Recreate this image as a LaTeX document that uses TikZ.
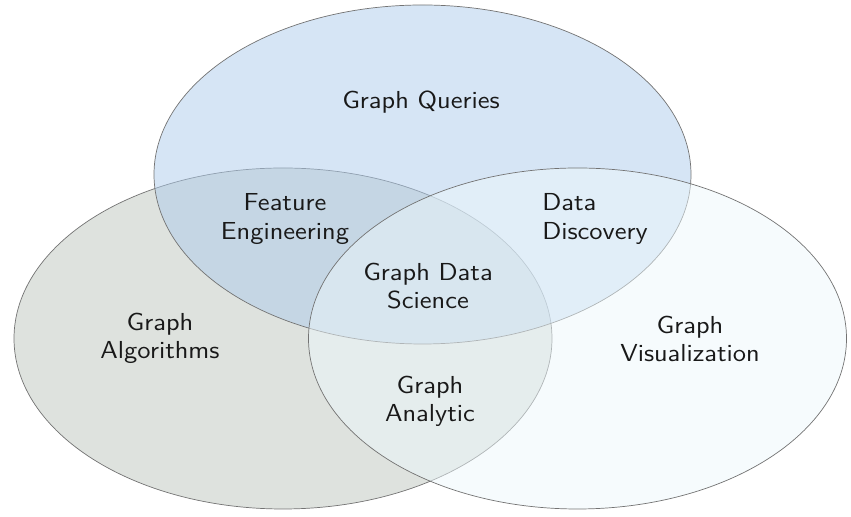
\documentclass[tikz,border=0pt]{standalone}
\usepackage{tikz}

\definecolor{queryblue}{RGB}{173,203,235}
\definecolor{algogrey}{RGB}{189,197,189}
\definecolor{vispale}{RGB}{237,248,252}

\tikzset{
  venn/.style={draw=black!55, thin, fill opacity=.5},
  lbl/.style={font=\sffamily\fontsize{14}{16}\selectfont, align=center, text=black!90,
    xscale=1.1, transform shape}
}

\begin{document}
\begin{tikzpicture}
    \useasboundingbox (0,0) rectangle (17.02,10.34);

    \draw[venn, fill=algogrey] (5.66,3.57) ellipse (5.38 and 3.41);
    \draw[venn, fill=queryblue] (8.45,6.85) ellipse (5.37 and 3.39);
    \draw[venn, fill=vispale] (11.55,3.57) ellipse (5.38 and 3.41);

    \node[lbl] (queries) at (8.42,8.30) {Graph Queries};
    \node[lbl] (feature) at (5.70,5.96) {Feature\\Engineering};
    \node[lbl, align=left] (discovery) at (11.90,5.96) {Data\\Discovery};
    \node[lbl] (gds) at (8.56,4.62) {Graph Data\\Science};
    \node[lbl] (algos) at (3.20,3.58) {Graph\\Algorithms};
    \node[lbl] (analytic) at (8.60,2.32) {Graph\\Analytic};
    \node[lbl] (vis) at (13.80,3.56) {Graph\\Visualization};
\end{tikzpicture}
\end{document}
